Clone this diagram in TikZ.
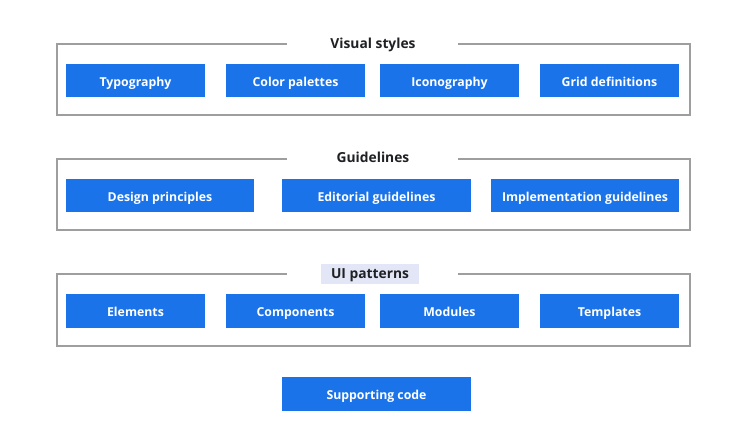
\documentclass[tikz,border=0pt]{standalone}
\usepackage{fontspec}
\setmainfont{Open Sans}
\definecolor{gblue}{HTML}{1A73E8}
\definecolor{frameg}{HTML}{9E9E9E}
\definecolor{titlec}{HTML}{202124}
\definecolor{lav}{HTML}{E3E6F6}
\begin{document}
\begin{tikzpicture}[x=1pt,y=-1pt,
  bluebox/.style={fill=gblue,draw=none,inner sep=0pt,text=white,text height=11pt,text depth=0pt,font=\bfseries\fontsize{12.3}{14}\selectfont},
  frameline/.style={draw=frameg,line width=1.2pt},
  titletext/.style={text=titlec,text height=11pt,text depth=2pt,font=\bfseries\fontsize{13.8}{16}\selectfont,inner sep=2pt}]
\useasboundingbox (0,0) rectangle (749,431);
\fill[white] (0,0) rectangle (749,431);
\newcommand{\bbox}[6]{\node[bluebox,minimum width=#4-#2,minimum height=#5-#3] (#1) at ({(#2+#4)/2},{(#3+#5)/2}) {#6};}
% Frame 1
\coordinate (f1a) at (287,44);
\coordinate (f1b) at (458,44);
\draw[frameline] (f1a) -- (57,44) -- (57,115) -- (690,115) -- (690,44) -- (f1b);
\node[titletext] (t1) at (373,44) {Visual styles};
\bbox{typo}{66}{64}{205}{97}{Typography}
\bbox{color}{226}{64}{365}{97}{Color palettes}
\bbox{icon}{380}{64}{519}{97}{Iconography}
\bbox{grid}{540}{64}{679}{97}{Grid definitions}
% Frame 2
\coordinate (f2a) at (287,159);
\coordinate (f2b) at (458,159);
\draw[frameline] (f2a) -- (57,159) -- (57,230) -- (690,230) -- (690,159) -- (f2b);
\node[titletext] (t2) at (373,158) {Guidelines};
\bbox{design}{66}{179}{254}{212}{Design principles}
\bbox{edit}{282}{179}{471}{212}{Editorial guidelines}
\bbox{impl}{491}{179}{679}{212}{Implementation guidelines}
% Frame 3
\coordinate (f3a) at (287,274);
\coordinate (f3b) at (458,274);
\draw[frameline] (f3a) -- (57,274) -- (57,346) -- (690,346) -- (690,274) -- (f3b);
\node[titletext,fill=lav,minimum width=98,minimum height=20] (t3) at (370,274) {UI patterns};
\bbox{elem}{66}{294}{205}{328}{Elements}
\bbox{comp}{226}{294}{365}{328}{Components}
\bbox{mod}{380}{294}{519}{328}{Modules}
\bbox{tmpl}{540}{294}{679}{328}{Templates}
% Supporting code
\bbox{supp}{282}{377}{471}{411}{Supporting code}
\end{tikzpicture}
\end{document}
